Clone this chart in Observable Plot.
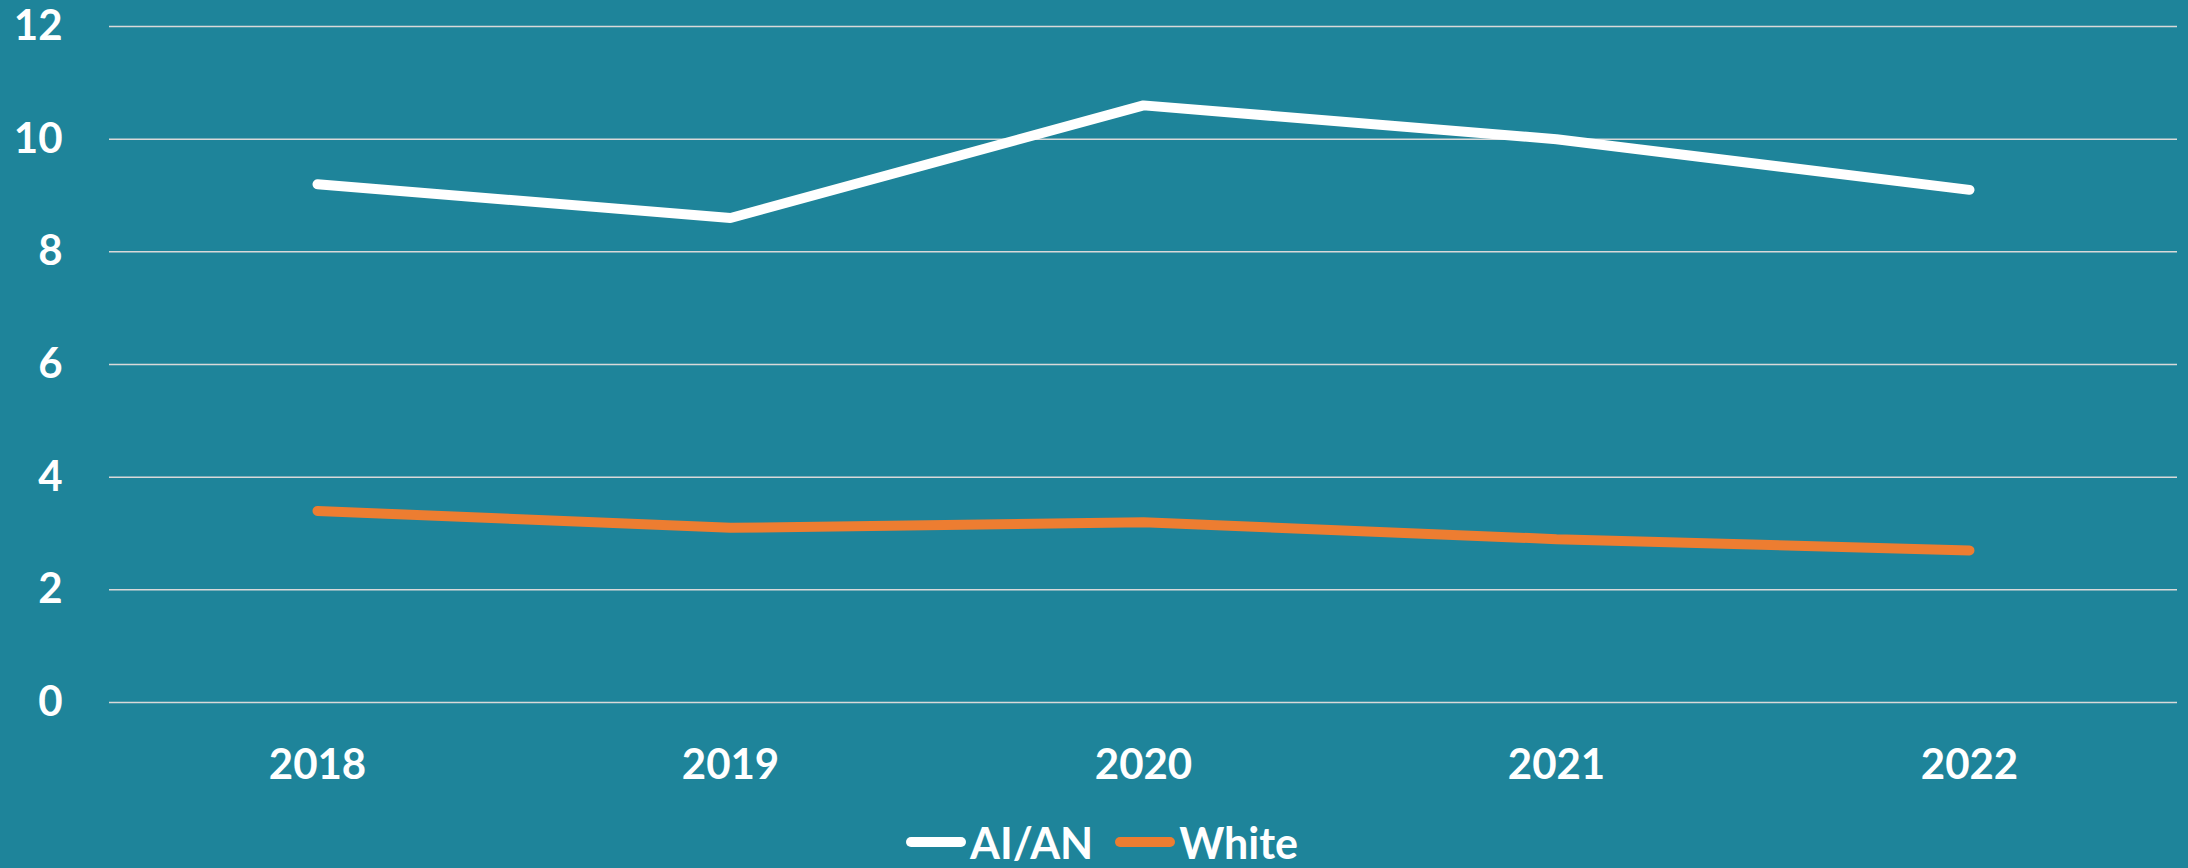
<!DOCTYPE html>
<html>
<head>
<meta charset="utf-8">
<script src="https://cdn.jsdelivr.net/npm/d3@7"></script>
<script src="https://cdn.jsdelivr.net/npm/@observablehq/plot@0.6"></script>
<style>
  html, body { margin: 0; padding: 0; background: #1e849a; }
  body { width: 2188px; height: 868px; overflow: hidden; font-family: Lato, "Open Sans", sans-serif; }
  #legend { display: flex; justify-content: center; align-items: center; height: 52px; padding-top: 16px; padding-left: 16px; color: #fff; font-weight: 700; font-size: 43px; }
  .item { display: flex; align-items: center; margin: 0 11px; }
  .sw { width: 60px; height: 10px; border-radius: 5px; margin-right: 4px; }
</style>
</head>
<body>
<div id="chart"></div>
<div id="legend"></div>
<script>
const years = ["2018", "2019", "2020", "2021", "2022"];
const seriesNames = ["AI/AN", "White"];
const aian = [9.2, 8.6, 10.6, 10.0, 9.1];
const white = [3.4, 3.1, 3.2, 2.9, 2.7];
const yTicks = [0, 2, 4, 6, 8, 10, 12];
const colors = ["#ffffff", "#ed7d31"];

const data = [];
years.forEach((yr, i) => {
  data.push({year: yr, series: seriesNames[0], value: aian[i]});
  data.push({year: yr, series: seriesNames[1], value: white[i]});
});

const chart = Plot.plot({
  width: 2188,
  height: 800,
  marginTop: 26,
  marginBottom: 98,
  marginLeft: 109,
  marginRight: 11,
  style: {background: "transparent", color: "#fff", fontFamily: "Lato, 'Open Sans', sans-serif", fontWeight: 700, fontSize: "42px"},
  x: {type: "point", domain: years, padding: 0.5, label: null},
  y: {domain: [0, 12], label: null},
  color: {domain: seriesNames, range: colors},
  marks: [
    Plot.ruleY(yTicks, {stroke: "#d9d9d9", strokeWidth: 1.5}),
    Plot.axisY({ticks: yTicks, tickSize: 0, tickPadding: 47, fontSize: 42, fontWeight: 700, fill: "#fff"}),
    Plot.axisX({tickSize: 0, tickPadding: 47, fontSize: 42, fontWeight: 700, fill: "#fff"}),
    Plot.line(data, {x: "year", y: "value", z: "series", stroke: "series", strokeWidth: 10, strokeLinecap: "round", strokeLinejoin: "miter"})
  ]
});
document.getElementById("chart").appendChild(chart);

const legend = document.getElementById("legend");
seriesNames.forEach((s, i) => {
  const it = document.createElement("div");
  it.className = "item";
  const sw = document.createElement("div");
  sw.className = "sw";
  sw.style.background = colors[i];
  const t = document.createElement("span");
  t.textContent = s;
  it.appendChild(sw);
  it.appendChild(t);
  legend.appendChild(it);
});
</script>
</body>
</html>
